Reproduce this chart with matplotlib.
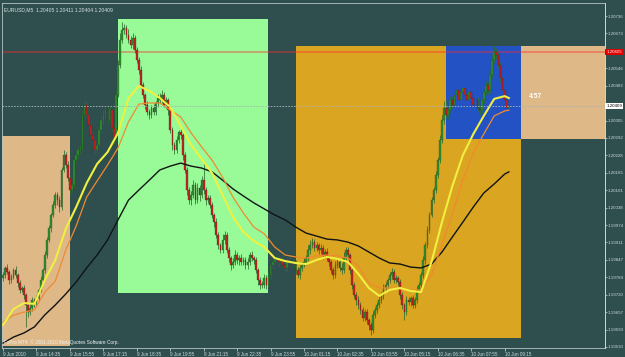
import matplotlib
matplotlib.use('Agg')
import matplotlib.pyplot as plt
from matplotlib.patches import Rectangle
from matplotlib.transforms import blended_transform_factory
import numpy as np

# ---------------- data (prices in points, 1 point = 0.00001) ----------------
first_open = 119780
close_pts = [
    119792, 119818, 119803, 119774, 119785, 119810, 119792, 119763, 119738, 119745,
    119719, 119683, 119657, 119672, 119701, 119690, 119708, 119738, 119774, 119810,
    119865, 119920, 119963, 120011, 120047, 120084, 120065, 120040, 120175, 120229,
    120193, 120146, 120102, 120120, 120211, 120229, 120248, 120255, 120375, 120412,
    120375, 120339, 120302, 120284, 120248, 120266, 120321, 120357, 120375, 120393,
    120357, 120393, 120328, 120291, 120448, 120557, 120649, 120685, 120692, 120667,
    120649, 120630, 120656, 120612, 120576, 120539, 120485, 120448, 120412, 120386,
    120375, 120401, 120386, 120419, 120437, 120430, 120448, 120412, 120430, 120393,
    120321, 120266, 120248, 120284, 120313, 120302, 120229, 120175, 120102, 120065,
    120084, 120120, 120065, 120109, 120084, 120138, 120102, 120065, 120073, 120047,
    120011, 119985, 119938, 119901, 119883, 119920, 119938, 119883, 119854, 119829,
    119840, 119865, 119847, 119854, 119840, 119847, 119829, 119840, 119865, 119854,
    119847, 119810, 119774, 119756, 119756, 119781, 119756, 119792, 119829, 119840,
    119847, 119854, 119840, 119847, 119829, 119818, 119840, 119847, 119829, 119836,
    119810, 119792, 119818, 119829, 119840, 119854, 119883, 119901, 119912, 119891,
    119901, 119883, 119891, 119865, 119876, 119854, 119840, 119810, 119792, 119829,
    119840, 119818, 119810, 119854, 119883, 119865, 119810, 119756, 119719, 119701,
    119683, 119665, 119635, 119657, 119628, 119610, 119592, 119646, 119665, 119683,
    119701, 119719, 119745, 119756, 119774, 119792, 119803, 119774, 119781, 119767,
    119719, 119683, 119657, 119701, 119694, 119708, 119683, 119701, 119738, 119756,
    119792, 119847, 119901, 119956, 120011, 120065, 120102, 120157, 120211, 120284,
    120357, 120401, 120375, 120393, 120430, 120412, 120448, 120466, 120430, 120459,
    120474, 120448, 120430, 120459, 120437, 120412, 120430, 120401, 120393, 120430,
    120459, 120485, 120466, 120521, 120576, 120605, 120594, 120557, 120510, 120466,
    120430, 120401, 120409,
]
upper_wick = [
    10, 8, 15, 6, 12, 9, 14, 7, 10, 8,
    12, 9, 6, 14, 10, 8, 11, 7, 13, 9,
    15, 10, 12, 8, 14, 10, 9, 16, 12, 18,
    10, 14, 8, 12, 9, 15, 11, 10, 20, 18,
    12, 9, 14, 10, 8, 13, 16, 11, 20, 12,
    10, 14, 9, 12, 18, 20, 25, 30, 15, 12,
    20, 14, 18, 10, 12, 9, 15, 11, 8, 14,
    12, 10, 16, 9, 13, 18, 20, 12, 10, 9,
    14, 10, 12, 16, 9, 11, 8, 13, 10, 12,
    15, 18, 10, 20, 12, 14, 66, 10, 12, 9,
    11, 8, 14, 10, 9, 20, 16, 10, 12, 8,
    14, 18, 10, 12, 16, 9, 11, 13, 10, 15,
    9, 12, 8, 10, 14, 16, 12, 10, 9, 13,
    11, 8, 12, 10, 14, 9, 16, 10, 12, 8,
    10, 13, 9, 11, 15, 12, 18, 20, 14, 10,
    12, 9, 14, 11, 10, 16, 12, 8, 10, 13,
    15, 10, 18, 22, 12, 10, 9, 8, 12, 10,
    14, 10, 9, 12, 11, 8, 10, 16, 12, 10,
    13, 10, 15, 12, 9, 11, 14, 10, 12, 9,
    10, 12, 8, 14, 11, 9, 13, 10, 15, 12,
    10, 14, 12, 16, 10, 13, 11, 15, 12, 18,
    20, 25, 30, 12, 15, 10, 14, 18, 12, 10,
    15, 12, 10, 14, 9, 12, 16, 10, 12, 8,
    12, 14, 10, 18, 20, 25, 15, 10, 12, 9,
    10, 8, 6,
]
lower_wick = [
    9, 12, 7, 14, 10, 8, 12, 15, 10, 9,
    14, 80, 18, 12, 10, 15, 9, 12, 8, 10,
    10, 12, 8, 14, 9, 11, 16, 18, 12, 8,
    12, 10, 14, 9, 12, 8, 10, 12, 9, 14,
    10, 14, 12, 18, 12, 10, 8, 12, 14, 10,
    12, 10, 15, 20, 10, 8, 12, 10, 14, 12,
    10, 12, 14, 9, 12, 16, 10, 12, 14, 12,
    15, 12, 9, 10, 14, 12, 10, 9, 13, 16,
    12, 18, 15, 10, 12, 14, 16, 12, 20, 15,
    18, 12, 14, 10, 22, 12, 14, 16, 10, 12,
    12, 18, 10, 14, 12, 10, 15, 12, 16, 20,
    10, 12, 14, 18, 10, 12, 14, 16, 10, 12,
    14, 10, 18, 16, 12, 10, 14, 9, 12, 10,
    12, 10, 14, 9, 11, 15, 10, 12, 9, 13,
    14, 12, 16, 10, 9, 12, 10, 14, 11, 12,
    10, 13, 12, 14, 10, 12, 16, 10, 14, 12,
    12, 10, 14, 9, 12, 10, 14, 16, 12, 18,
    14, 16, 12, 10, 15, 20, 18, 12, 10, 12,
    12, 10, 14, 9, 12, 10, 13, 11, 12, 10,
    16, 14, 30, 12, 10, 14, 12, 10, 12, 9,
    10, 12, 14, 10, 12, 9, 11, 10, 12, 10,
    12, 14, 10, 16, 12, 10, 14, 12, 10, 12,
    14, 12, 10, 15, 12, 14, 10, 12, 16, 10,
    12, 10, 14, 9, 12, 10, 14, 12, 16, 14,
    12, 10, 8,
]

# moving averages, sampled at bar indices
ma_idx = list(range(0, 241, 5)) + [242]
ma_fast = [
    119610, 119668, 119690, 119687, 119774, 119847, 119960, 120040, 120127, 120197,
    120240, 120310, 120437, 120481, 120463, 120437, 120404, 120335, 120266, 120215,
    120164, 120084, 120004, 119949, 119916, 119894, 119854, 119843, 119836, 119832,
    119847, 119858, 119851, 119840, 119796, 119745, 119716, 119738, 119745, 119734,
    119730, 119840, 119985, 120117, 120229, 120306, 120372, 120434, 120444, 120437,
]
ma_mid = [
    119621, 119646, 119657, 119665, 119730, 119770, 119883, 119971, 120076, 120135,
    120193, 120255, 120350, 120415, 120419, 120419, 120393, 120368, 120310, 120259,
    120211, 120149, 120076, 120018, 119967, 119942, 119894, 119865, 119858, 119854,
    119862, 119865, 119862, 119854, 119825, 119763, 119745, 119745, 119741, 119738,
    119738, 119792, 119902, 120015, 120138, 120237, 120306, 120372, 120390, 120393,
]
ma_slow = [
    119544, 119566, 119581, 119603, 119647, 119683, 119723, 119767, 119818, 119865,
    119920, 119993, 120065, 120102, 120138, 120175, 120189, 120200, 120189, 120182,
    120168, 120138, 120106, 120080, 120055, 120033, 120011, 119993, 119967, 119945,
    119934, 119923, 119920, 119912, 119898, 119876, 119854, 119836, 119832, 119821,
    119818, 119832, 119876, 119931, 119985, 120040, 120091, 120124, 120160, 120168,
]

time_labels = ["9 Jun 2010", "9 Jun 14:35", "9 Jun 15:55", "9 Jun 17:15", "9 Jun 18:35",
               "9 Jun 19:55", "9 Jun 21:15", "9 Jun 22:35", "9 Jun 23:55", "10 Jun 01:15",
               "10 Jun 02:35", "10 Jun 03:55", "10 Jun 05:15", "10 Jun 06:35", "10 Jun 07:55",
               "10 Jun 09:15"]
time_label_idx = list(range(0, 241, 16))

price_ticks = [1.20736, 1.20673, 1.20609, 1.20546, 1.20482, 1.20419, 1.20355, 1.20292,
               1.20228, 1.20165, 1.20101, 1.20038, 1.19974, 1.19911, 1.19847, 1.19784,
               1.19720, 1.19657, 1.19593, 1.19530]

# zones: (start bar, end bar, top price, bottom price, colour)
zone_start = [-3, 55.0, 140.0, 247.7, 212.0]
zone_end = [32.1, 127.0, 247.7, 300, 247.7]
zone_top = [1.20299, 1.20725, 1.20627, 1.20627, 1.20627]
zone_bottom = [1.19533, 1.19727, 1.19563, 1.20287, 1.20287]
zone_color = ['#DEB887', '#98FB98', '#DAA520', '#DEB887', '#2352C4']

resistance = 1.20605
bid = 1.20409
title_text = "EURUSD,M5  1.20405 1.20411 1.20404 1.20409"
copyright_text = "FxPro MT4, \u00a9 2001-2010 MetaQuotes Software Corp."
timer_text = "4:57"

plt.rcParams['font.family'] = ['Liberation Sans', 'DejaVu Sans']

# ---------------- figure ----------------
BG = '#2F4F4F'
fig = plt.figure(figsize=(6.25, 3.57), dpi=100)
fig.patch.set_facecolor(BG)
ax = fig.add_axes([2 / 625, 9 / 357, 603 / 625, 345 / 357])
ax.set_facecolor(BG)
ax.set_xlim(-0.5, 288)
ax.set_ylim(1.195262, 1.207834)

for s, e, t, b, c in zip(zone_start, zone_end, zone_top, zone_bottom, zone_color):
    ax.add_patch(Rectangle((s, b), e - s, t - b, facecolor=c, edgecolor='none', zorder=1))

ax.axhline(resistance, color='#FF2A2A', alpha=0.5, lw=1.1, zorder=2)

closes = np.array(close_pts) / 1e5
opens = np.concatenate([[first_open / 1e5], closes[:-1]])
highs = np.maximum(opens, closes) + np.array(upper_wick) / 1e5
lows = np.minimum(opens, closes) - np.array(lower_wick) / 1e5
idx = np.arange(len(closes))
up = closes >= opens

ax.vlines(idx, lows, highs, color='#2E6E2E', lw=0.55, zorder=3)
body_h = np.where(np.abs(closes - opens) < 2e-5, 2e-5, closes - opens)
ax.bar(idx[up], body_h[up], bottom=opens[up], width=0.8, color='#2F8F2F',
       edgecolor='#1E4E1E', linewidth=0.2, zorder=3.5)
ax.bar(idx[~up], body_h[~up], bottom=opens[~up], width=0.8, color='#CC2222',
       edgecolor='#3A1A1A', linewidth=0.2, zorder=3.5)

mi = np.array(ma_idx)
ax.plot(mi, np.array(ma_slow) / 1e5, color='#101414', lw=1.0, zorder=4)
ax.plot(mi, np.array(ma_mid) / 1e5, color='#F08A30', lw=0.9, zorder=4.2)
ax.plot(mi, np.array(ma_fast) / 1e5, color='#F0F040', lw=1.5, zorder=4.4)

ax.axhline(bid, color='#A8B4B4', lw=0.6, dashes=(2, 1.5), zorder=5)

# axes styling
for side in ['left', 'top', 'bottom']:
    ax.spines[side].set_color('#B8C4C4')
    ax.spines[side].set_linewidth(0.6)
    ax.spines[side].set_linestyle((0, (1, 1)))
ax.spines['right'].set_color('#D0D8D8')
ax.spines['right'].set_linewidth(0.7)

# tick labels hidden behind the price boxes are left blank, as in the terminal
hidden = {1.20609, 1.20419}
ax.yaxis.tick_right()
ax.set_yticks(price_ticks)
ax.set_yticklabels(['' if p in hidden else f"{p:.5f}" for p in price_ticks])
ax.tick_params(axis='y', colors='#D0D8D8', labelsize=3.2, length=1.5, width=0.5, pad=0.4)
ax.set_xticks(time_label_idx)
ax.set_xticklabels(time_labels)
for lab in ax.get_xticklabels():
    lab.set_horizontalalignment('left')
ax.tick_params(axis='x', colors='#D0D8D8', labelsize=3.3, length=2, width=0.5, pad=0.8)

ax.text(0.004, 0.988, title_text, transform=ax.transAxes, ha='left', va='top',
        fontsize=3.6, color='#D8E0E0', zorder=6)
ax.text(0.004, 0.008, copyright_text,
        transform=ax.transAxes, ha='left', va='bottom', fontsize=3.4, color='#F0F4F4', zorder=6)
ax.text(251.5, 1.20441, timer_text, ha='left', va='center', fontsize=4.8,
        fontweight='bold', color='white', zorder=6)

tr = blended_transform_factory(ax.transAxes, ax.transData)
ax.text(1.002, resistance, f"{resistance:.5f}", transform=tr, ha='left', va='center',
        fontsize=3.2, color='white', clip_on=False, zorder=7,
        bbox=dict(boxstyle='square,pad=0.2', facecolor='#E00000', edgecolor='none'))
ax.text(1.002, bid, f"{bid:.5f}", transform=tr, ha='left', va='center',
        fontsize=3.2, color='black', clip_on=False, zorder=7,
        bbox=dict(boxstyle='square,pad=0.2', facecolor='white', edgecolor='none'))

fig.savefig('out.png', dpi=100, facecolor=BG)
